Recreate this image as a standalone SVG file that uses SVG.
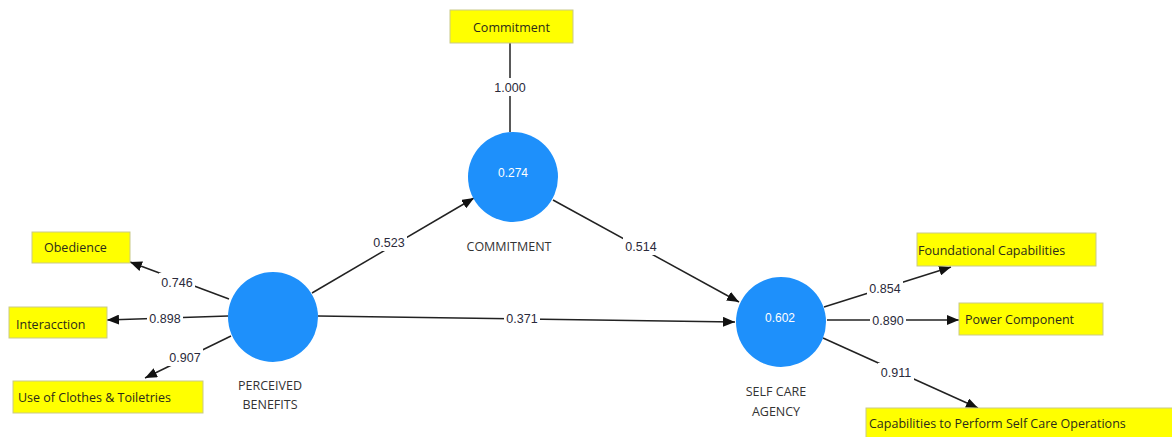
<svg xmlns="http://www.w3.org/2000/svg" width="1172" height="437" viewBox="0 0 1172 437">
  <style>
    .box rect { fill: #ffff00; stroke: #c9c98a; stroke-width: 1; }
    .box text { font-family: "Open Sans", "Liberation Sans", Arial, sans-serif; font-size: 12.5px; fill: #2b2b1a; }
    .lv circle { fill: #1e90fb; }
    .lv .r2 { font-family: "Liberation Sans", Arial, sans-serif; font-size: 12px; fill: #ffffff; text-anchor: middle; }
    .lv .name { font-family: "Open Sans", "Liberation Sans", Arial, sans-serif; font-size: 12.5px; fill: #333333; text-anchor: middle; }
    .edge { stroke: #222222; stroke-width: 1.5; fill: none; }
    .coef rect { fill: #ffffff; }
    .coef text { font-family: "Liberation Sans", Arial, sans-serif; font-size: 12.5px; fill: #2a2a3a; text-anchor: middle; }
  </style>
  <defs>
    <marker id="arrow" viewBox="0 0 12 10" refX="12" refY="5" markerWidth="12" markerHeight="10" markerUnits="userSpaceOnUse" orient="auto">
      <path d="M0,0 L12,5 L0,10 z" fill="#111111"/>
    </marker>
  </defs>

  <rect width="1172" height="437" fill="#ffffff"/>

  <!-- connectors -->
  <g id="connectors">
    <line class="edge" x1="510" y1="43" x2="510" y2="132"/>
    <line class="edge" x1="312" y1="293" x2="474" y2="198" marker-end="url(#arrow)"/>
    <line class="edge" x1="553" y1="200" x2="739" y2="302" marker-end="url(#arrow)"/>
    <line class="edge" x1="318" y1="316" x2="735" y2="322" marker-end="url(#arrow)"/>
    <line class="edge" x1="229" y1="299" x2="130" y2="262" marker-end="url(#arrow)"/>
    <line class="edge" x1="228" y1="316" x2="107" y2="320" marker-end="url(#arrow)"/>
    <line class="edge" x1="231" y1="336" x2="145" y2="378" marker-end="url(#arrow)"/>
    <line class="edge" x1="824" y1="307" x2="951" y2="267" marker-end="url(#arrow)"/>
    <line class="edge" x1="827" y1="320" x2="959" y2="320" marker-end="url(#arrow)"/>
    <line class="edge" x1="823" y1="338" x2="978" y2="408" marker-end="url(#arrow)"/>

    <!-- path coefficients -->
    <g class="coef">
      <rect x="492" y="78" width="36" height="18"/><text x="510" y="92">1.000</text>
      <rect x="371" y="233" width="36" height="18"/><text x="389" y="247">0.523</text>
      <rect x="623" y="237" width="36" height="18"/><text x="641" y="251">0.514</text>
      <rect x="504" y="309" width="36" height="18"/><text x="522" y="323">0.371</text>
      <rect x="159" y="273" width="36" height="18"/><text x="177" y="287">0.746</text>
      <rect x="147" y="309" width="36" height="18"/><text x="165" y="323">0.898</text>
      <rect x="167" y="348" width="36" height="18"/><text x="185" y="362">0.907</text>
      <rect x="867" y="279" width="36" height="18"/><text x="885" y="293">0.854</text>
      <rect x="870" y="311" width="36" height="18"/><text x="888" y="325">0.890</text>
      <rect x="878" y="363" width="36" height="18"/><text x="896" y="377">0.911</text>
    </g>
  </g>

  <!-- latent variables -->
  <g id="perceived-benefits" class="lv">
    <circle cx="273" cy="317" r="45"/>
    <text class="name" x="270" y="390">PERCEIVED</text>
    <text class="name" x="270" y="409">BENEFITS</text>
  </g>
  <g id="commitment-lv" class="lv">
    <circle cx="513" cy="177" r="45"/>
    <text class="r2" x="513" y="177">0.274</text>
    <text class="name" x="509" y="251">COMMITMENT</text>
  </g>
  <g id="self-care-agency" class="lv">
    <circle cx="781" cy="322" r="45"/>
    <text class="r2" x="780" y="322">0.602</text>
    <text class="name" x="776" y="396">SELF CARE</text>
    <text class="name" x="776" y="416">AGENCY</text>
  </g>

  <!-- indicators -->
  <g id="ind-commitment" class="box">
    <rect x="450" y="10" width="123" height="33"/>
    <text x="473" y="32">Commitment</text>
  </g>
  <g id="ind-obedience" class="box">
    <rect x="32" y="232" width="98" height="31"/>
    <text x="44" y="252">Obedience</text>
  </g>
  <g id="ind-interacction" class="box">
    <rect x="9" y="307" width="98" height="31"/>
    <text x="16" y="329">Interacction</text>
  </g>
  <g id="ind-clothes" class="box">
    <rect x="13" y="381" width="190" height="32"/>
    <text x="18" y="402">Use of Clothes &amp; Toiletries</text>
  </g>
  <g id="ind-foundational" class="box">
    <rect x="917" y="233" width="179" height="33"/>
    <text x="918" y="255">Foundational Capabilities</text>
  </g>
  <g id="ind-power" class="box">
    <rect x="959" y="303" width="144" height="32"/>
    <text x="965" y="324">Power Component</text>
  </g>
  <g id="ind-capabilities" class="box">
    <rect x="866" y="408" width="310" height="32"/>
    <text x="869" y="428">Capabilities to Perform Self Care Operations</text>
  </g>
</svg>
